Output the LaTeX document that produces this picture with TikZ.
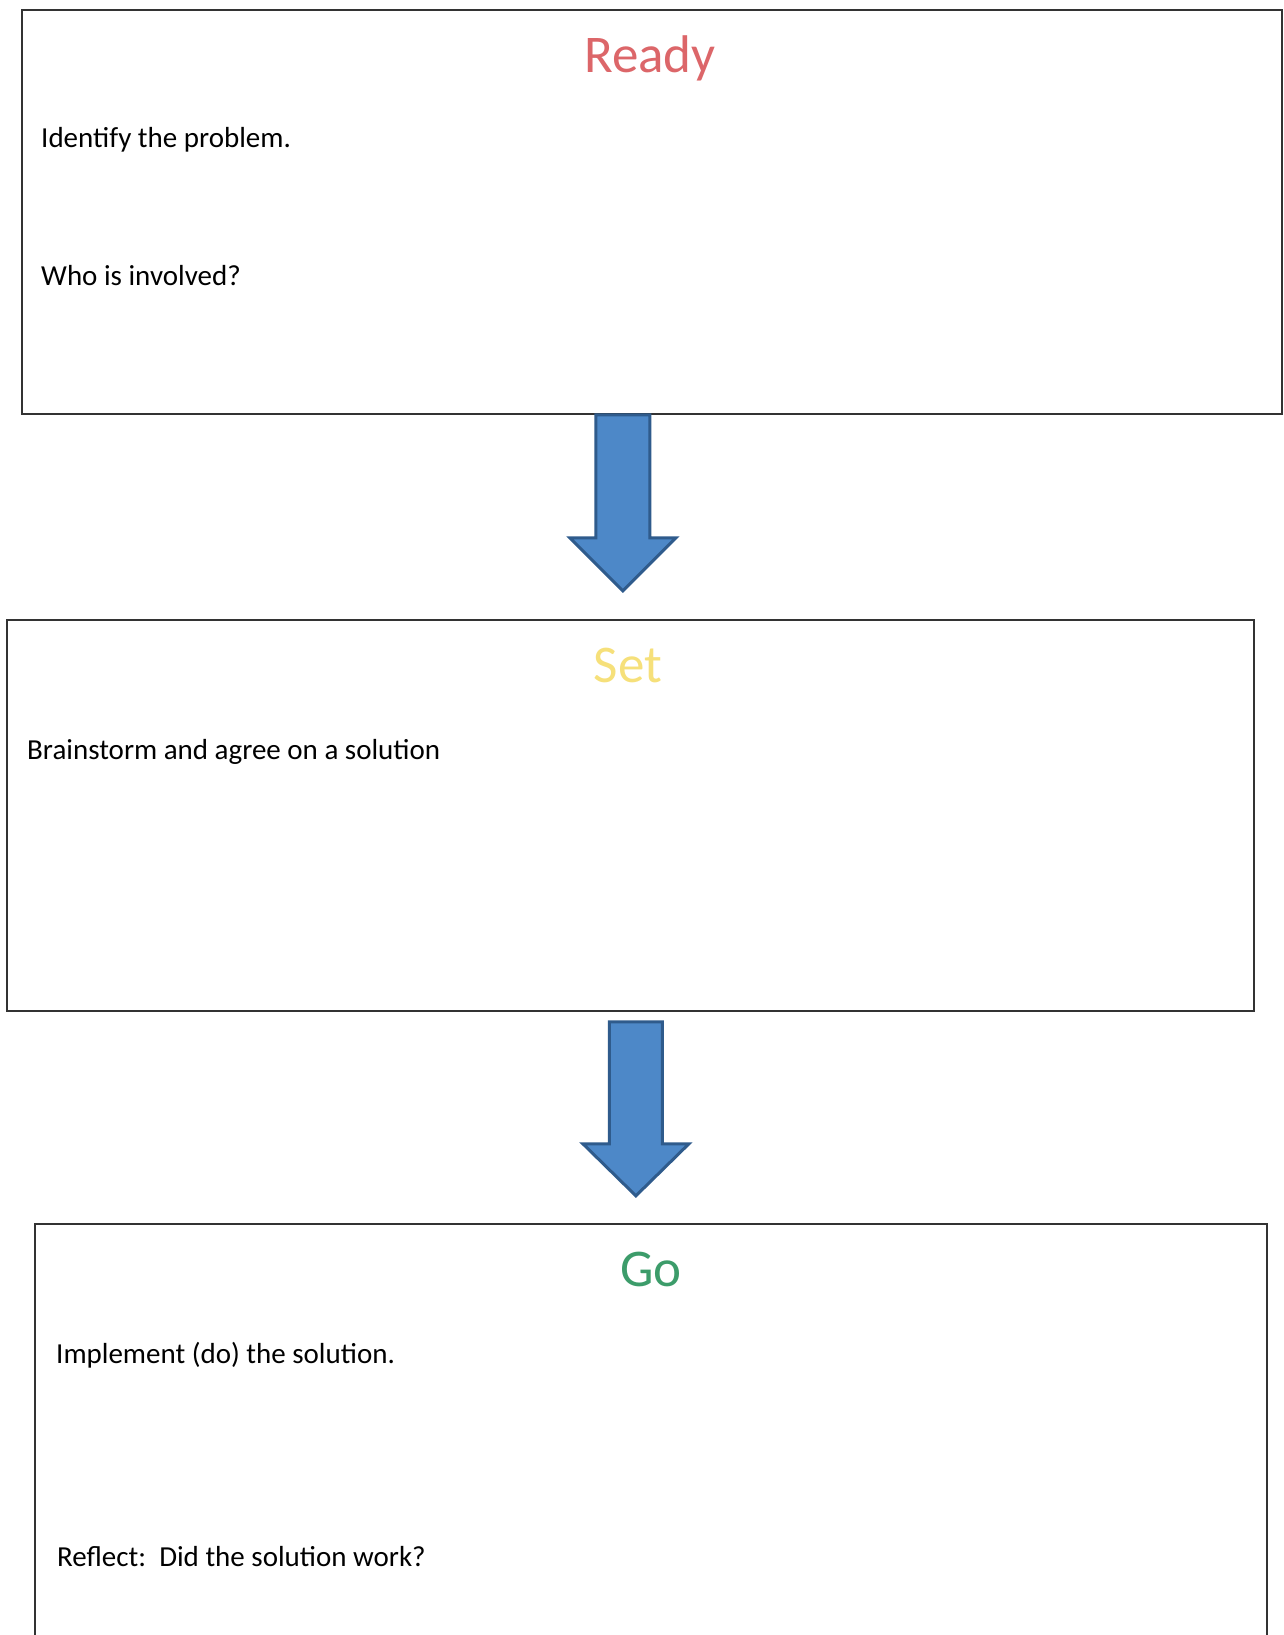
\documentclass[tikz,border=0pt]{standalone}
\usepackage{fontspec}
\setmainfont{Carlito}
\usetikzlibrary{calc}
\definecolor{readyred}{HTML}{DC6669}
\definecolor{setyellow}{HTML}{F6E07A}
\definecolor{gogreen}{HTML}{3C9C6A}
\definecolor{arrowblue}{HTML}{4D88C8}
\definecolor{arrowedge}{HTML}{2F5B8C}
\definecolor{framegrey}{HTML}{333333}
\begin{document}
\begin{tikzpicture}[x=1pt, y=-1pt,
  panel/.style={draw=framegrey, line width=1.8pt, fill=white, inner sep=0pt, anchor=north west},
  title/.style={inner sep=0pt, font=\fontsize{53}{60}\selectfont},
  body/.style={anchor=west, inner sep=0pt, font=\fontsize{29}{34}\selectfont},
  blockarrow/.style={fill=arrowblue, draw=arrowedge, line width=3pt, line join=miter}]
\clip (0,0) rectangle (1283,1635);
\fill[white] (0,0) rectangle (1283,1635);

% Ready
\node[panel, minimum width=1260pt, minimum height=404pt] (ready) at (21,9) {};
\node[title, text=readyred] (readyhd) at ([shift={(-2,49)}]ready.north) {Ready};
\node[body] (identify) at ([shift={(20,131)}]ready.north west) {Identify the problem.};
\node[body] (who) at ([shift={(20,267)}]ready.north west) {Who is involved?};

% Set
\node[panel, minimum width=1247pt, minimum height=391pt] (set) at (6,619) {};
\node[title, text=setyellow] (sethd) at ([shift={(-2.5,46)}]set.north) {Set};
\node[body] (brainstorm) at ([shift={(21,133)}]set.north west) {Brainstorm and agree on a solution};

% Go
\node[panel, minimum width=1232pt, minimum height=440pt] (go) at (34,1223) {};
\node[title, text=gogreen] (gohd) at ([shift={(0,46)}]go.north) {Go};
\node[body] (implement) at ([shift={(22,132)}]go.north west) {Implement (do) the solution.};
\node[body] (reflect) at ([shift={(23,334)}]go.north west) {Reflect:\ \ Did the solution work?};

% block arrows
\coordinate (a1) at ([xshift=-29pt]ready.south);
\coordinate (t1) at ($(a1)+(0,176)$);
\draw[blockarrow] ($(a1)+(-27,0)$) -- ($(a1)+(27,0)$) -- ($(t1)+(27,-53)$) -- ($(t1)+(53,-53)$)
  -- (t1) -- ($(t1)+(-53,-53)$) -- ($(t1)+(-27,-53)$) -- cycle;
\coordinate (a2) at ([shift={(5.5,10)}]set.south);
\coordinate (t2) at ($(a2)+(0,174)$);
\draw[blockarrow] ($(a2)+(-26.5,0)$) -- ($(a2)+(26.5,0)$) -- ($(t2)+(26.5,-52)$) -- ($(t2)+(53,-52)$)
  -- (t2) -- ($(t2)+(-53,-52)$) -- ($(t2)+(-26.5,-52)$) -- cycle;
\end{tikzpicture}
\end{document}
